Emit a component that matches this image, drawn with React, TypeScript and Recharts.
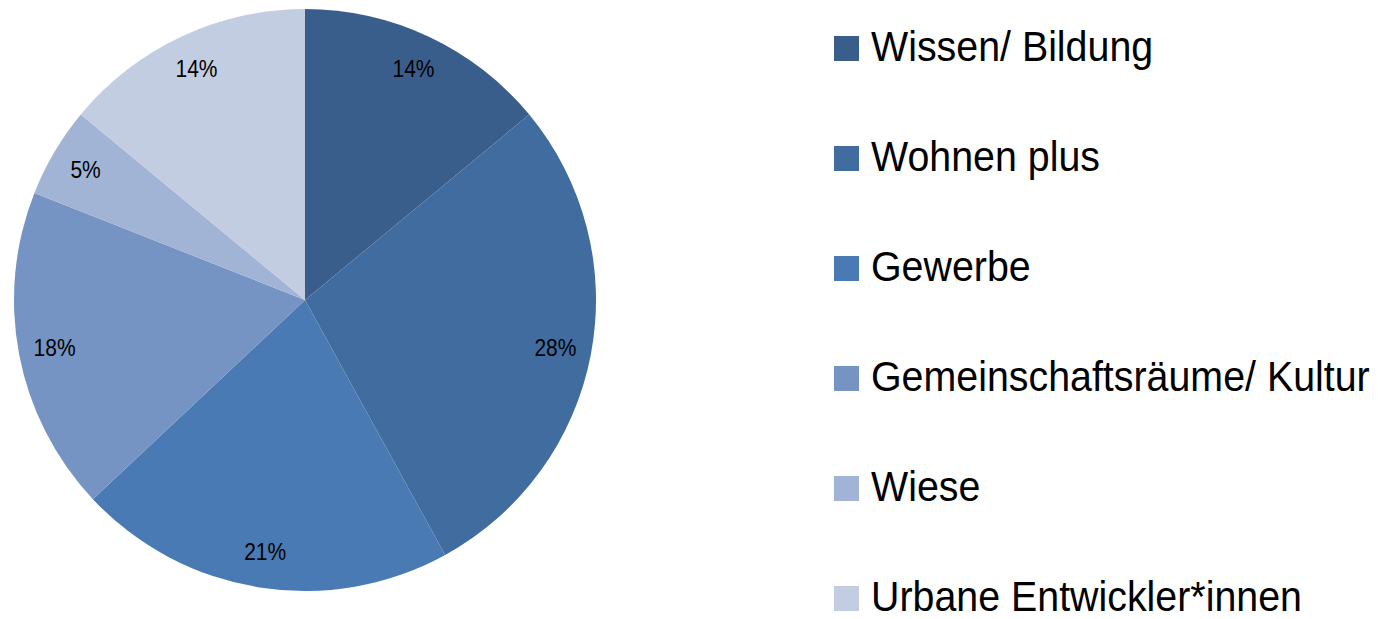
import { Cell, Pie, PieChart } from "recharts";

const categories = [
  "Wissen/ Bildung",
  "Wohnen plus",
  "Gewerbe",
  "Gemeinschaftsräume/ Kultur",
  "Wiese",
  "Urbane Entwickler*innen",
];
const shares = [14, 28, 21, 18, 5, 14];
const colors = ["#3a5e8c", "#416ca0", "#4a7ab4", "#7594c4", "#a2b4d5", "#c3cde2"];

const data = categories.map((name, i) => ({ name, value: shares[i] }));

const RADIAN = Math.PI / 180;
const font = "'Liberation Sans', Arial, sans-serif";

function renderLabel(props: any) {
  const { cx, cy, midAngle, outerRadius, value } = props;
  const r = outerRadius * 0.876;
  const x = cx + r * Math.cos(-midAngle * RADIAN);
  const y = cy + r * Math.sin(-midAngle * RADIAN);
  return (
    <text
      transform={`translate(${x},${y}) scale(0.875,1)`}
      fill="#000"
      fontSize={24}
      fontFamily={font}
      textAnchor="middle"
      dominantBaseline="central"
    >
      {value}%
    </text>
  );
}

// legend rows are drawn next to the pie, in series order
function ChartLegend() {
  return (
    <div style={{ position: "absolute", left: 826, top: 0, fontFamily: font }}>
      {categories.map((name, i) => {
        const mid = 40 + i * 110;
        return (
          <div key={name}>
            <span
              style={{
                position: "absolute",
                left: 0,
                top: mid - 12,
                width: 25,
                height: 25,
                background: colors[i],
              }}
            />
            <span
              style={{
                position: "absolute",
                left: 37,
                top: mid - 22.5,
                fontSize: 42,
                lineHeight: "42px",
                whiteSpace: "nowrap",
                color: "#000",
                transform: "scaleX(0.937)",
                transformOrigin: "left center",
              }}
            >
              {name}
            </span>
          </div>
        );
      })}
    </div>
  );
}

export default function App() {
  return (
    <div style={{ position: "relative", width: 1370, height: 611 }}>
      <PieChart
        width={1370}
        height={611}
        margin={{ top: 0, right: 0, bottom: 0, left: 0 }}
      >
        <Pie
          data={data}
          dataKey="value"
          nameKey="name"
          cx={297}
          cy={292}
          outerRadius={291}
          startAngle={90}
          endAngle={-270}
          stroke="none"
          labelLine={false}
          label={renderLabel}
          isAnimationActive={false}
        >
          {data.map((d, i) => (
            <Cell key={d.name} fill={colors[i]} />
          ))}
        </Pie>
      </PieChart>
      <ChartLegend />
    </div>
  );
}
